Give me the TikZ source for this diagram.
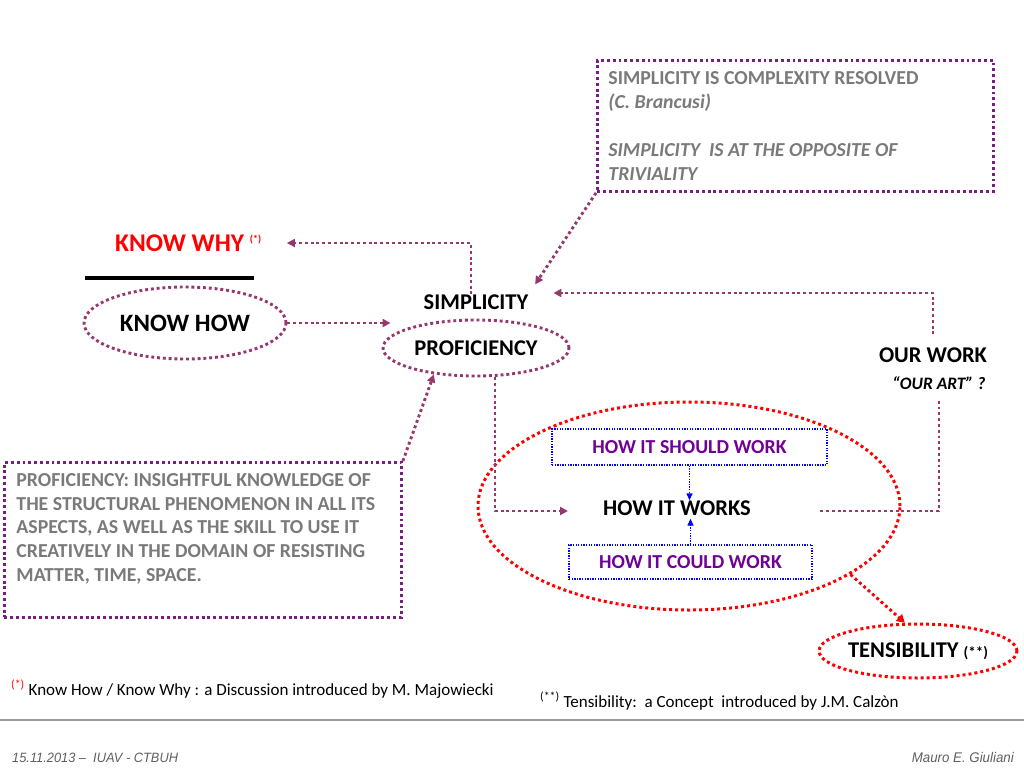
\documentclass[tikz,border=0pt]{standalone}
\usepackage{fontspec}
\setmainfont{Carlito}
\newfontfamily\footfont[FakeStretch=0.95]{Liberation Sans}
\usetikzlibrary{arrows.meta,calc,shapes.geometric,positioning}
\definecolor{linkpurple}{RGB}{150,55,110}
\definecolor{boxpurple}{RGB}{120,30,130}
\definecolor{notegray}{RGB}{122,122,122}
\definecolor{workpurple}{RGB}{112,0,150}
\definecolor{footgray}{RGB}{95,95,95}

\begin{document}
\begin{tikzpicture}[x=1pt, y=-1pt, >={Triangle[length=8pt,width=8pt]},
  dots/.style={line width=2.9pt, dash pattern=on 2.9pt off 2.9pt},
  link/.style={dots, draw=linkpurple, ->},
  oval/.style={ellipse, draw=linkpurple, dots, inner sep=0pt},
  redoval/.style={ellipse, draw=red, line width=3pt, dash pattern=on 3pt off 3pt, inner sep=0pt},
  bluebox/.style={draw=blue, line width=1.3pt, dash pattern=on 1.3pt off 1.3pt, text=workpurple, font=\bfseries\fontsize{19.8}{23}\selectfont},
  bluelink/.style={draw=blue, line width=1.3pt, dash pattern=on 1.3pt off 1.3pt, -{Triangle[length=7pt,width=6pt]}},
  textbox/.style={draw=boxpurple, dots, inner xsep=11pt, inner ysep=11pt, text=notegray, font=\bfseries\fontsize{19.8}{24}\selectfont},
  big/.style={inner sep=0pt, font=\bfseries\fontsize{22.5}{26}\selectfont}]
\useasboundingbox (0,0) rectangle (1024,768);

% left side
\node[big, anchor=west, text=red, font=\bfseries\fontsize{25.5}{30}\selectfont] (knowwhy) at (115,243) {KNOW WHY \textsuperscript{\fontsize{10}{12}\selectfont(*)}};
\draw[line width=4pt] (85,278) -- (254,278);
\node[oval, minimum width=202pt, minimum height=72pt, font=\bfseries\fontsize{25}{30}\selectfont] (knowhow) at (185,323) {KNOW HOW};

% centre
\node[big] (simp) at (476,302) {SIMPLICITY};
\node[oval, minimum width=186pt, minimum height=56pt, font=\bfseries\fontsize{22.5}{26}\selectfont] (prof) at (476,348) {PROFICIENCY};

\node[textbox, anchor=north west] (quote) at (596,59) {\parbox[c][109pt][t]{374pt}{\raggedright
  SIMPLICITY IS COMPLEXITY RESOLVED\\
  \textit{(C. Brancusi)}\\[24pt]
  \textit{SIMPLICITY\ \ IS AT THE OPPOSITE OF}\\
  \textit{TRIVIALITY}}};
\node[textbox, anchor=north west, inner xsep=12pt, font=\bfseries\fontsize{19.8}{23.7}\selectfont] (defbox) at (3,461) {\parbox[c][133pt][t]{373pt}{\raggedright
  PROFICIENCY: INSIGHTFUL KNOWLEDGE OF\\
  THE STRUCTURAL PHENOMENON IN ALL ITS\\
  ASPECTS, AS WELL AS THE SKILL TO USE IT\\
  CREATIVELY IN THE DOMAIN OF RESISTING\\
  MATTER, TIME, SPACE.}};

% right side
\node[big] (ourwork) at (933,355) {OUR WORK};
\node[inner sep=0pt, font=\bfseries\itshape\fontsize{17.5}{20}\selectfont] (ourart) at (939,383) {“OUR ART” ?};

\node[redoval, minimum width=422pt, minimum height=208pt] (worksoval) at (689,506) {};
\node[bluebox, minimum width=275pt, minimum height=36pt] (should) at (689.5,447) {HOW IT SHOULD WORK};
\node[big] (works) at (677,508) {HOW IT WORKS};
\node[bluebox, minimum width=243pt, minimum height=34pt] (could) at (690.5,562) {HOW IT COULD WORK};
\node[redoval, minimum width=187pt, minimum height=54pt, font=\bfseries\fontsize{22.5}{26}\selectfont] (tens) at (918,651) {TENSIBILITY {\fontsize{15}{18}\selectfont(**)}};

% connectors
\draw[link, shorten >=25pt] ([xshift=-5pt]simp.north) |- (knowwhy.east);
\draw[link] (knowhow.east) -- ([xshift=9pt]knowhow.east -| prof.west);
\draw[link, shorten >=12pt] (quote.south west) -- (simp.north east);
\draw[link, shorten <=13pt, shorten >=25pt] (ourwork.north) |- ([yshift=9pt]simp.east);
\draw[dots, draw=linkpurple, shorten <=11pt] (ourart.south) |- ([xshift=67pt, yshift=-3pt]works.east);
\draw[link, shorten >=35pt] ([xshift=19pt]prof.south) |- ([yshift=-3pt]works.west);
\draw[link] (defbox.north east) -- (prof.212);
\draw[bluelink] (should.south) -- (should.south |- works.north);
\draw[bluelink, shorten >=3pt] (could.north) -- (could.north |- works.south);
\draw[dots, draw=red, -{Triangle[length=8pt,width=9pt]}, red] (worksoval.-23) -- (tens.115);

% notes and footer
\node[anchor=base west, inner sep=0pt, font=\fontsize{17}{20}\selectfont] (note1) at (11,695) {\textcolor{red}{\textsuperscript{(*)}}\ Know How / Know Why : a Discussion introduced by M. Majowiecki};
\node[anchor=base west, inner sep=0pt, font=\fontsize{17}{20}\selectfont] (note2) at (540,707) {\textsuperscript{(**)}\ Tensibility:\ \ a Concept\ \ introduced by J.M. Calzòn};
\draw[line width=2pt, draw=gray!80] (0,720) -- (1024,720);
\node[anchor=base west, inner sep=0pt, text=footgray, font=\footfont\itshape\fontsize{13.5}{16}\selectfont] (date) at (12,762) {15.11.2013 –\ \ IUAV - CTBUH};
\node[anchor=base east, inner sep=0pt, text=footgray, font=\footfont\itshape\fontsize{14}{16}\selectfont] (author) at (1014,762) {Mauro E. Giuliani};
\end{tikzpicture}
\end{document}
